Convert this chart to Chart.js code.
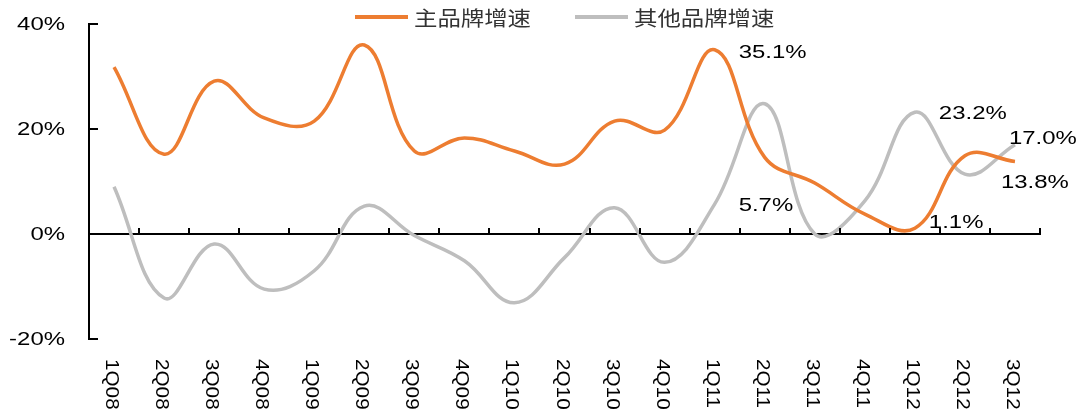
<!DOCTYPE html>
<html>
<head>
<meta charset="utf-8">
<script src="https://cdn.jsdelivr.net/npm/chart.js@4"></script>
<style>
  html, body { margin: 0; padding: 0; background: #fff; }
  #wrap { width: 1091px; height: 409px; }
</style>
</head>
<body>
<div id="wrap"><canvas id="growthChart" width="1091" height="409"></canvas></div>
<script>
// quarters on the x axis
const quarters = ['1Q08', '2Q08', '3Q08', '4Q08', '1Q09', '2Q09', '3Q09', '4Q09', '1Q10', '2Q10',
    '3Q10', '4Q10', '1Q11', '2Q11', '3Q11', '4Q11', '1Q12', '2Q12', '3Q12'];

// growth rates, %
const mainBrand = [31.8, 15.2, 29.1, 22.1, 21.5, 36.0, 15.8, 18.3, 15.8, 13.3,
    21.5, 19.8, 35.1, 14.6, 9.7, 3.8, 1.1, 14.9, 13.8];
const otherBrands = [9.0, -12.2, -1.9, -10.5, -7.0, 5.3, -0.3, -5.1, -13.1, -4.5,
    5.0, -5.4, 5.7, 24.8, 0.0, 6.3, 23.2, 11.4, 17.0];

const seriesNames = ['主品牌增速', '其他品牌增速'];
const yTicks = [-20, 0, 20, 40];

// which points carry a value label: [dataset, category index]
const labelledPoints = [[0, 12], [1, 12], [1, 16], [0, 16], [1, 18], [0, 18]];
// pixel offsets of those labels from their points
const labelOffsets = [[24, 3], [24, 2], [24, 2], [14, -5], [-6, -6], [-14, 21]];

const colors = {
    main: 'rgb(237, 125, 49)',
    other: 'rgb(190, 190, 190)',
    axis: '#000',
    text: '#000',
    legendText: '#333',
};

const latinFont = '18px "Liberation Sans", Arial, sans-serif';
const tickFont = '18px "Liberation Sans", Arial, sans-serif';
const cjkFont = '20px "Noto Sans CJK SC", sans-serif';

// text in the reference is drawn wide, so stretch it along its baseline
function wideText(ctx, text, x, y, sx, align) {
    ctx.save();
    ctx.translate(x, y);
    ctx.scale(sx, 1);
    ctx.textAlign = align;
    ctx.fillText(text, 0, 0);
    ctx.restore();
}

const decorations = {
    id: 'decorations',
    afterDraw(chart) {
        const ctx = chart.ctx;
        const xs = chart.scales.x;
        const ys = chart.scales.y;
        const zero = ys.getPixelForValue(0);
        const step = xs.getPixelForValue(1) - xs.getPixelForValue(0);

        ctx.save();
        ctx.strokeStyle = colors.axis;
        ctx.lineWidth = 2;

        // inward tick marks on the y axis
        yTicks.forEach(v => {
            const py = Math.round(ys.getPixelForValue(v));
            ctx.beginPath();
            ctx.moveTo(xs.left, py);
            ctx.lineTo(xs.left + 9, py);
            ctx.stroke();
        });

        // inward tick marks between categories on the zero line
        quarters.forEach((q, i) => {
            const px = Math.round(xs.getPixelForValue(i) + step / 2);
            ctx.beginPath();
            ctx.moveTo(px, zero);
            ctx.lineTo(px, zero - 6);
            ctx.stroke();
        });

        // y tick labels
        ctx.fillStyle = colors.text;
        ctx.font = latinFont;
        ctx.textBaseline = 'middle';
        yTicks.forEach(v => {
            wideText(ctx, v + '%', xs.left - 24, ys.getPixelForValue(v) + 1, 1.33, 'right');
        });

        // x labels, rotated to read top to bottom
        ctx.font = tickFont;
        quarters.forEach((q, i) => {
            ctx.save();
            ctx.translate(xs.getPixelForValue(i) - 3, ys.bottom + 20);
            ctx.rotate(Math.PI / 2);
            ctx.scale(1.15, 1);
            ctx.textAlign = 'left';
            ctx.fillText(q, 0, 0);
            ctx.restore();
        });

        // value labels
        ctx.font = latinFont;
        labelledPoints.forEach(([ds, idx], k) => {
            const pt = chart.getDatasetMeta(ds).data[idx];
            const value = chart.data.datasets[ds].data[idx];
            const [dx, dy] = labelOffsets[k];
            wideText(ctx, value.toFixed(1) + '%', pt.x + dx, pt.y + dy, 1.33, 'left');
        });

        // legend
        const legendItems = [[355, colors.main], [575, colors.other]];
        legendItems.forEach(([lx, col], k) => {
            ctx.strokeStyle = col;
            ctx.lineWidth = 4;
            ctx.beginPath();
            ctx.moveTo(lx, 17);
            ctx.lineTo(lx + 53, 17);
            ctx.stroke();
            ctx.fillStyle = colors.legendText;
            ctx.font = cjkFont;
            wideText(ctx, seriesNames[k], lx + 59, 18, 1.17, 'left');
        });
        ctx.restore();
    }
};

new Chart(document.getElementById('growthChart'), {
    type: 'line',
    data: {
        labels: quarters,
        datasets: [{
            label: seriesNames[0],
            data: mainBrand,
            borderColor: colors.main,
            backgroundColor: colors.main,
            borderWidth: 3.5,
            pointRadius: 0,
            tension: 0.4,
            fill: false,
        }, {
            label: seriesNames[1],
            data: otherBrands,
            borderColor: colors.other,
            backgroundColor: colors.other,
            borderWidth: 3.5,
            pointRadius: 0,
            tension: 0.4,
            fill: false,
        }]
    },
    options: {
        responsive: false,
        animation: false,
        layout: {
            padding: { left: 89, right: 51, top: 24, bottom: 70 }
        },
        plugins: {
            legend: { display: false },
            tooltip: { enabled: false }
        },
        scales: {
            x: {
                type: 'category',
                offset: true,
                position: { y: 0 },
                grid: { display: false, drawTicks: false },
                border: { display: true, color: colors.axis, width: 2 },
                ticks: { display: false }
            },
            y: {
                min: -20,
                max: 40,
                grid: { display: false, drawTicks: false },
                border: { display: true, color: colors.axis, width: 2 },
                ticks: { display: false, stepSize: 20 }
            }
        }
    },
    plugins: [decorations]
});
</script>
</body>
</html>
